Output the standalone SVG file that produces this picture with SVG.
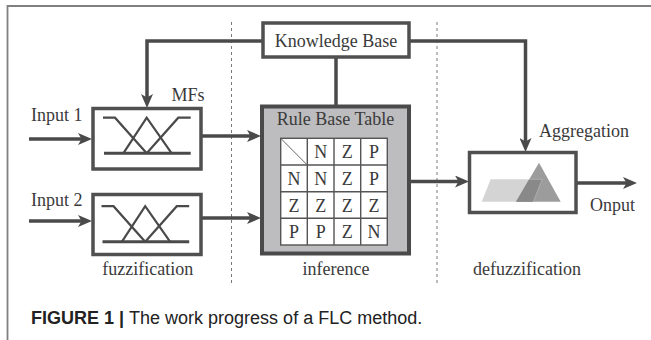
<svg xmlns="http://www.w3.org/2000/svg" width="651" height="340" viewBox="0 0 651 340">
  <style>
    .lbl { font-family: "Liberation Serif", "Times New Roman", serif; font-size: 18px; fill: #3a3a3a; }
    .mid { text-anchor: middle; }
    .box { fill: #ffffff; stroke: #505050; stroke-width: 3.5; }
    .conn { fill: none; stroke: #4a4a4a; stroke-width: 3.5; }
    .arrow { marker-end: url(#head); }
    .mf { fill: none; stroke: #4a4a4a; stroke-width: 2.2; stroke-linejoin: miter; }
    .mfbase { stroke: #4a4a4a; stroke-width: 3; }
    .sep { stroke: #7a7a7a; stroke-width: 1; stroke-dasharray: 3 3; }
    .grid { stroke: #555; stroke-width: 1.4; fill: none; }
    .cell { font-family: "Liberation Serif", "Times New Roman", serif; font-size: 18px; fill: #3a3a3a; text-anchor: middle; }
    .cap { font-family: "Liberation Sans", Arial, sans-serif; font-size: 18px; fill: #222; }
  </style>
  <defs>
    <marker id="head" markerUnits="userSpaceOnUse" markerWidth="14" markerHeight="12" refX="4" refY="6" orient="auto">
      <path d="M0,0 L14,6 L0,12 L3.5,6 Z" fill="#4a4a4a"/>
    </marker>
  </defs>

  <rect width="651" height="340" fill="#ffffff"/>
  <!-- page frame -->
  <path d="M651,6 H7.5 V340" fill="none" stroke="#808080" stroke-width="1.8"/>

  <!-- stage separators -->
  <g id="separators">
    <line class="sep" x1="231.5" y1="22" x2="231.5" y2="283"/>
    <line class="sep" x1="437" y1="22" x2="437" y2="283"/>
  </g>

  <!-- connectors -->
  <g id="connectors">
    <path class="conn arrow" d="M263,41 H147 V98"/>
    <path class="conn arrow" d="M409,41 H525.5 V142"/>
    <path class="conn" d="M336,57 V106"/>
    <path class="conn arrow" d="M29,139 H82"/>
    <path class="conn arrow" d="M29,221 H82"/>
    <path class="conn arrow" d="M201,136 H251"/>
    <path class="conn arrow" d="M201,218 H251"/>
    <path class="conn arrow" d="M409,181.5 H459"/>
    <path class="conn arrow" d="M576,183 H627"/>
  </g>

  <!-- knowledge base -->
  <g id="knowledge-base">
    <rect class="box" x="263" y="23" width="146" height="34"/>
    <text class="lbl mid" x="336" y="46.5">Knowledge Base</text>
  </g>

  <!-- fuzzification: membership functions -->
  <g id="mf-input1">
    <rect class="box" x="93" y="108.5" width="108" height="60.5"/>
    <polyline class="mf" points="103,117.7 115,117.7 146.7,153.3"/>
    <polyline class="mf" points="123.3,153.3 146.7,117.7 171.7,153.3"/>
    <polyline class="mf" points="146.7,153.3 178.3,117.7 190.7,117.7"/>
    <line class="mfbase" x1="104" y1="153.3" x2="190.7" y2="153.3"/>
  </g>
  <g id="mf-input2">
    <rect class="box" x="93" y="194.5" width="108" height="60"/>
    <g transform="translate(-1.5,88.5)">
      <polyline class="mf" points="103,117.7 115,117.7 146.7,153.3"/>
      <polyline class="mf" points="123.3,153.3 146.7,117.7 171.7,153.3"/>
      <polyline class="mf" points="146.7,153.3 178.3,117.7 190.7,117.7"/>
      <line class="mfbase" x1="104" y1="153.3" x2="190.7" y2="153.3"/>
    </g>
  </g>

  <!-- inference: rule base table -->
  <g id="rule-base">
    <rect x="262" y="106.5" width="147" height="147" fill="#bdbdbf" stroke="#4a4a4a" stroke-width="4"/>
    <text class="lbl mid" x="335.5" y="125">Rule Base Table</text>
    <rect x="280.7" y="138.3" width="106.6" height="106.7" fill="#ffffff"/>
    <g class="grid">
      <rect x="280.7" y="138.3" width="106.6" height="106.7"/>
      <path d="M307.3,138.3 V245 M334,138.3 V245 M360.7,138.3 V245 M280.7,165 H387.3 M280.7,191.7 H387.3 M280.7,218.3 H387.3"/>
      <line x1="280.7" y1="138.3" x2="307.3" y2="165" stroke-width="0.9"/>
    </g>
    <text class="cell" x="320.7" y="158.3">N</text>
    <text class="cell" x="347.3" y="158.3">Z</text>
    <text class="cell" x="374" y="158.3">P</text>
    <text class="cell" x="294" y="185">N</text>
    <text class="cell" x="320.7" y="185">N</text>
    <text class="cell" x="347.3" y="185">Z</text>
    <text class="cell" x="374" y="185">P</text>
    <text class="cell" x="294" y="211.7">Z</text>
    <text class="cell" x="320.7" y="211.7">Z</text>
    <text class="cell" x="347.3" y="211.7">Z</text>
    <text class="cell" x="374" y="211.7">Z</text>
    <text class="cell" x="294" y="238.3">P</text>
    <text class="cell" x="320.7" y="238.3">P</text>
    <text class="cell" x="347.3" y="238.3">Z</text>
    <text class="cell" x="374" y="238.3">N</text>
  </g>

  <!-- defuzzification: aggregation -->
  <g id="aggregation">
    <rect class="box" x="469.5" y="152.5" width="106.5" height="60"/>
    <polygon points="490.7,179.3 542.3,179.3 533.3,201.7 481.7,201.7" fill="#d4d4d4"/>
    <polygon points="539,162.7 560.7,201.7 516,201.7" fill="#9c9c9c"/>
    <polygon points="516,201.7 529.2,179.3 542.3,179.3 533.3,201.7" fill="#898989"/>
    <polyline points="529.2,179.3 542.3,179.3 533.3,201.7" fill="none" stroke="#b4b4b4" stroke-width="0.8"/>
  </g>

  <!-- labels -->
  <g id="labels">
    <text class="lbl" x="31" y="121">Input 1</text>
    <text class="lbl" x="31" y="206">Input 2</text>
    <text class="lbl" x="171.5" y="101">MFs</text>
    <text class="lbl" x="539" y="137">Aggregation</text>
    <text class="lbl" x="590" y="211">Onput</text>
    <text class="lbl mid" x="147.7" y="275">fuzzification</text>
    <text class="lbl mid" x="336" y="275">inference</text>
    <text class="lbl mid" x="527" y="275">defuzzification</text>
  </g>

  <!-- caption -->
  <text class="cap" x="31" y="323.5"><tspan font-weight="bold">FIGURE 1 | </tspan>The work progress of a FLC method.</text>
</svg>
